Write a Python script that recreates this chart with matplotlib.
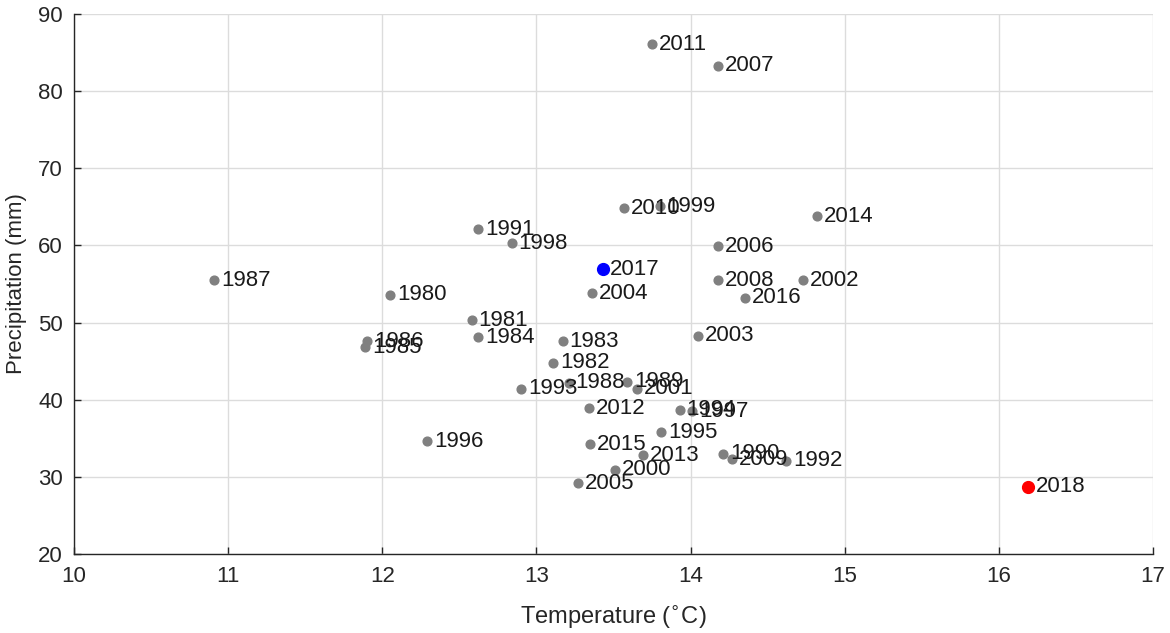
import matplotlib
matplotlib.use('Agg')
import matplotlib.pyplot as plt
from matplotlib import font_manager

# Roczne średnie: temperatura (°C) i opad (mm), 1980-2018.
lata = [1980, 1981, 1982, 1983, 1984, 1985, 1986, 1987, 1988, 1989,
        1990, 1991, 1992, 1993, 1994, 1995, 1996, 1997, 1998, 1999,
        2000, 2001, 2002, 2003, 2004, 2005, 2006, 2007, 2008, 2009,
        2010, 2011, 2012, 2013, 2014, 2015, 2016, 2017, 2018]
temperatura = [12.05, 12.58, 13.11, 13.17, 12.62, 11.89, 11.90, 10.91, 13.21, 13.59,
               14.21, 12.62, 14.62, 12.90, 13.93, 13.81, 12.29, 14.01, 12.84, 13.80,
               13.51, 13.65, 14.73, 14.05, 13.36, 13.27, 14.18, 14.18, 14.18, 14.27,
               13.57, 13.75, 13.34, 13.69, 14.82, 13.35, 14.35, 13.43, 16.19]
opad = [53.6, 50.3, 44.8, 47.6, 48.1, 46.8, 47.6, 55.5, 42.2, 42.3,
        33.0, 62.1, 32.1, 41.4, 38.7, 35.8, 34.6, 38.5, 60.3, 65.1,
        30.9, 41.4, 55.5, 48.3, 53.8, 29.2, 59.9, 83.3, 55.5, 32.3,
        64.85, 86.1, 38.9, 32.8, 63.8, 34.2, 53.2, 56.9, 28.7]
WYRÓŻNIONE = {2017: 'blue', 2018: 'red'}


def rodzina(nazwa, zapas='Liberation Sans'):
    dostępne = {f.name for f in font_manager.fontManager.ttflist}
    return nazwa if nazwa in dostępne else zapas


def main():
    plt.rcParams['font.family'] = ['Liberation Sans', 'DejaVu Sans']
    fig = plt.figure(figsize=(11.7, 6.33), dpi=100)
    ax = fig.add_axes([74 / 1170, 1 - 554 / 633, 1079 / 1170, 540 / 633])

    for rok, t, p in zip(lata, temperatura, opad):
        if rok in WYRÓŻNIONE:
            continue
        ax.plot(t, p, 'o', color='#808080', markersize=6.3, zorder=3)
        ax.annotate(str(rok), (t, p), xytext=(5, 0), textcoords='offset points',
                    va='center', ha='left', fontsize=16, color='#1a1a1a', zorder=4)
    for rok, kolor in WYRÓŻNIONE.items():
        i = lata.index(rok)
        ax.plot(temperatura[i], opad[i], 'o', color=kolor, markersize=8.5, zorder=5)
        ax.annotate(str(rok), (temperatura[i], opad[i]), xytext=(5.5, 0),
                    textcoords='offset points', va='center', ha='left',
                    fontsize=16, color='#1a1a1a', zorder=6)

    ax.set_xlim(10, 17)
    ax.set_ylim(20, 90)
    ax.set_xticks(range(10, 18))
    ax.set_yticks(range(20, 91, 10))
    ax.grid(True, color='#dcdcdc', linewidth=1)
    ax.set_axisbelow(True)
    for strona in ('top', 'right'):
        ax.spines[strona].set_visible(False)
    for strona in ('left', 'bottom'):
        ax.spines[strona].set_color('#262626')
        ax.spines[strona].set_linewidth(1)
    wąska = rodzina('Liberation Sans Narrow')
    ax.tick_params(axis='x', direction='in', length=5, width=1, color='#262626',
                   labelsize=16, labelcolor='#262626', labelfontfamily=wąska, pad=9)
    ax.tick_params(axis='y', direction='in', length=5, width=1, color='#262626',
                   labelsize=16, labelcolor='#262626', labelfontfamily=wąska, pad=8)
    ax.set_xlabel('Temperature ($^{\\circ}$C)', fontsize=17, color='#262626',
                  family=wąska, labelpad=12)
    ax.set_ylabel('Precipitation (mm)', fontsize=16, color='#262626',
                  family=wąska, labelpad=8)
    fig.savefig('out.png', dpi=100)


if __name__ == '__main__':
    main()
